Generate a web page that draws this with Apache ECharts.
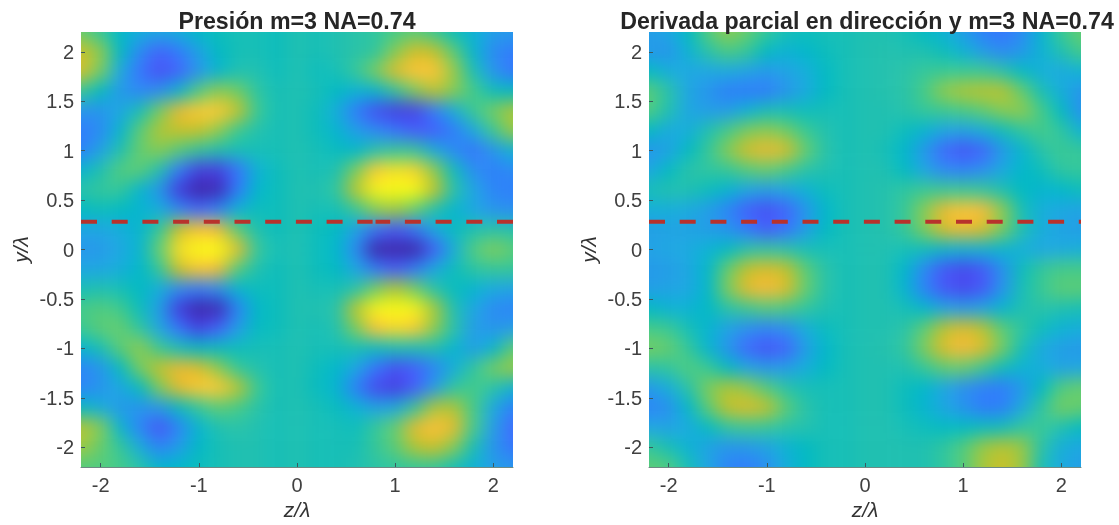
<!DOCTYPE html>
<html><head><meta charset="utf-8">
<style>html,body{margin:0;padding:0;background:#fff}#c{width:1119px;height:525px}</style>
<script src="https://cdn.jsdelivr.net/npm/echarts@6/dist/echarts.min.js"></script>
</head><body><div id="c"></div>
<script>
const titleLeft = 'Presión m=3 NA=0.74';
const titleRight = 'Derivada parcial en dirección y m=3 NA=0.74';
const xName = 'z/λ', yName = 'y/λ';
const xTicks = [-2,-1,0,1,2];
const yTicks = [-2,-1.5,-1,-0.5,0,0.5,1,1.5,2];
const lineY = 0.28;
const zCells = ['-2.4','-2.2','-2.0','-1.8','-1.6','-1.4','-1.2','-1.0','-0.8','-0.6','-0.4','-0.2','0','0.2','0.4','0.6','0.8','1.0','1.2','1.4','1.6','1.8','2.0','2.2','2.4'];
const yCells = ['2.4','2.2','2.0','1.8','1.6','1.4','1.2','1.0','0.8','0.6','0.4','0.2','0','-0.2','-0.4','-0.6','-0.8','-1.0','-1.2','-1.4','-1.6','-1.8','-2.0','-2.2','-2.4'];
const pressure = [
[.2,.2,.18,-.02,-.12,-.15,-.12,-.05,.0,.01,.0,-.02,.02,.0,.02,.05,.1,.15,.15,.08,-.02,-.12,-.22,-.25,-.25],
[.25,.22,.1,-.08,-.15,-.2,-.15,-.06,-.02,.0,.0,-.02,.02,.0,.02,.05,.08,.15,.2,.12,-.02,-.12,-.25,-.28,-.28],
[.42,.42,.3,-.05,-.35,-.52,-.42,-.22,-.05,.0,.0,-.02,.02,.0,.02,.05,.08,.28,.44,.4,.2,-.1,-.35,-.42,-.42],
[.45,.45,.25,-.18,-.45,-.62,-.52,-.3,-.1,.02,.02,-.02,.02,-.02,.0,.1,.26,.46,.6,.6,.32,.0,-.3,-.45,-.45],
[.12,.12,-.05,-.28,-.36,-.32,-.1,.18,.3,.24,.07,.0,.02,.0,-.05,-.12,-.1,.08,.26,.38,.28,.15,-.02,-.05,-.05],
[-.3,-.3,-.3,-.2,.0,.25,.5,.62,.62,.4,.12,.0,.02,-.02,-.15,-.42,-.62,-.7,-.68,-.42,-.15,.12,.25,.36,.36],
[-.42,-.42,-.35,-.1,.2,.36,.4,.4,.3,.12,.03,.0,.02,-.02,-.1,-.25,-.35,-.45,-.55,-.55,-.42,-.18,.12,.32,.32],
[-.4,-.4,-.22,.02,.22,.28,.18,.08,.02,.0,.0,.0,.02,.0,-.03,-.08,.05,.1,.1,-.15,-.35,-.45,-.3,-.12,-.12],
[-.1,-.1,.02,.18,.2,.02,-.42,-.7,-.7,-.45,-.12,-.02,.02,.0,.02,.26,.62,.72,.66,.3,-.02,-.33,-.4,-.35,-.35],
[.05,.05,.1,.1,-.1,-.3,-.72,-.92,-.82,-.42,-.08,-.02,.02,.02,.08,.38,.8,.92,.82,.4,.05,-.2,-.38,-.4,-.4],
[-.05,-.05,-.02,-.05,-.1,-.15,-.35,-.5,-.38,-.12,-.02,-.02,.02,.0,.0,.1,.28,.32,.22,.02,-.1,-.2,-.3,-.33,-.33],
[-.2,-.2,-.2,-.15,-.1,.1,.42,.6,.52,.2,.02,-.02,.02,-.02,-.05,-.22,-.45,-.58,-.45,-.18,-.03,.02,.05,.03,.03],
[-.3,-.3,-.28,-.2,-.1,.22,.7,.95,.95,.48,.1,.0,.02,-.02,-.08,-.35,-.92,-1,-.95,-.55,-.15,.18,.27,.2,.15],
[-.2,-.2,-.2,-.15,-.08,.1,.42,.6,.52,.18,.02,-.02,.02,-.02,-.05,-.2,-.42,-.55,-.42,-.18,-.02,.07,.1,.1,.1],
[.0,.0,.02,.0,-.05,-.15,-.35,-.42,-.32,-.1,-.02,-.02,.02,.0,.0,.05,.25,.36,.25,.05,-.03,-.1,-.18,-.22,-.22],
[.15,.15,.18,.14,-.02,-.25,-.72,-.95,-.82,-.38,-.06,-.02,.02,.02,.05,.38,.8,.95,.8,.35,.02,-.2,-.35,-.38,-.38],
[.12,.12,.2,.22,.08,-.2,-.45,-.68,-.52,-.25,-.04,-.02,.02,.0,.03,.26,.58,.68,.62,.3,.05,-.25,-.3,-.25,-.25],
[-.1,-.1,.0,.2,.3,.12,.0,-.05,-.03,-.02,.0,.0,.02,.0,.0,.0,-.03,.0,.0,.02,-.1,-.25,-.1,.2,.26],
[-.38,-.38,-.3,-.05,.25,.4,.5,.46,.3,.1,.03,.0,.02,-.02,-.08,-.2,-.45,-.62,-.55,-.38,-.15,.08,.25,.32,.32],
[-.38,-.38,-.3,-.2,-.05,.26,.48,.62,.62,.38,.12,.0,.02,-.03,-.1,-.4,-.65,-.7,-.55,-.25,.08,.15,.05,-.12,-.15],
[-.05,-.05,-.15,-.28,-.3,-.28,-.05,.1,.2,.15,.05,.0,.02,.0,-.03,-.12,-.22,-.18,.1,.36,.36,.15,-.18,-.4,-.4],
[.4,.38,.28,-.1,-.38,-.6,-.38,-.1,.02,.05,.02,.0,.02,.0,.0,-.02,.1,.22,.48,.58,.48,.15,-.25,-.5,-.5],
[.33,.33,.22,.1,-.15,-.38,-.25,-.06,.0,.02,.02,.0,.02,.0,.0,.0,.1,.2,.36,.42,.28,.0,-.3,-.45,-.45],
[.2,.18,.18,.15,.05,-.1,-.08,-.02,.0,.02,.02,.0,.02,.0,.0,.02,.06,.08,.1,.1,.0,-.12,-.25,-.3,-.3],
[.18,.16,.16,.15,.05,-.05,-.05,-.02,.0,.02,.02,.0,.02,.0,.0,.02,.05,.08,.1,.08,.0,-.12,-.22,-.28,-.28]
];
const derivative = [
[-.25,-.25,-.2,-.05,.18,.3,.22,.1,.0,-.02,.0,.0,.02,.02,.0,-.05,-.12,-.25,-.4,-.45,-.35,-.1,.12,.22,.22],
[-.25,-.25,-.2,-.05,.18,.3,.22,.1,.0,-.02,.0,.0,.02,.02,.0,-.05,-.12,-.25,-.4,-.45,-.35,-.1,.12,.22,.22],
[-.28,-.28,-.3,-.12,.05,.16,.1,-.05,-.12,-.08,-.02,.0,.02,.03,.02,.02,-.02,-.12,-.25,-.35,-.28,-.12,.02,.15,.15],
[-.05,-.05,-.15,-.2,-.2,-.18,-.22,-.28,-.22,-.15,-.05,.0,.02,.03,.05,.1,.12,.12,.12,.05,-.05,-.15,-.18,-.12,-.12],
[.2,.2,.05,-.2,-.3,-.4,-.42,-.42,-.3,-.18,-.05,.0,.02,.03,.05,.15,.3,.36,.38,.38,.22,.0,-.15,-.3,-.3],
[.18,.18,.02,-.2,-.25,-.25,-.12,.0,.0,-.02,.0,.0,.02,.02,.04,.1,.12,.15,.2,.28,.3,.15,-.05,-.32,-.32],
[-.05,-.05,-.18,-.15,.02,.15,.26,.3,.24,.12,.03,.0,.02,.02,-.02,-.1,-.2,-.22,-.15,-.02,.08,.15,.08,-.12,-.12],
[-.3,-.3,-.22,-.05,.1,.28,.44,.5,.45,.22,.05,.0,.02,.0,-.08,-.28,-.5,-.6,-.52,-.28,-.1,.05,.12,.1,.1],
[-.2,-.2,-.05,.05,.08,.1,.18,.22,.15,.05,.02,.0,.02,.02,-.05,-.2,-.35,-.38,-.32,-.18,-.08,-.02,.08,.1,.1],
[.0,.0,.03,.02,-.02,-.1,-.2,-.25,-.2,-.12,-.02,.0,.02,.03,.08,.12,.12,.12,.1,.02,-.05,-.1,-.08,-.02,-.02],
[-.15,-.15,-.15,-.18,-.25,-.38,-.55,-.62,-.52,-.3,-.08,.0,.02,.03,.1,.28,.5,.6,.55,.3,.0,-.15,-.2,-.22,-.22],
[-.25,-.25,-.22,-.22,-.25,-.3,-.42,-.55,-.45,-.25,-.05,.0,.02,.03,.1,.26,.45,.5,.45,.26,.02,-.15,-.22,-.25,-.25],
[-.22,-.22,-.2,-.18,-.12,-.05,.05,.08,.05,.0,.0,.0,.02,.02,.0,-.02,-.1,-.12,-.12,-.1,-.15,-.2,-.18,-.15,-.15],
[-.28,-.28,-.25,-.2,-.08,.22,.4,.46,.4,.2,.05,.0,.02,.02,-.08,-.35,-.58,-.65,-.58,-.32,-.02,.1,.15,.15,.15],
[-.25,-.25,-.22,-.2,-.08,.26,.48,.54,.46,.22,.05,.0,.02,.02,-.1,-.38,-.58,-.65,-.58,-.3,.0,.12,.2,.2,.2],
[-.05,-.05,-.12,-.12,-.06,.05,.12,.18,.15,.08,.02,.0,.02,.02,.0,-.08,-.2,-.25,-.2,-.1,.02,.05,.02,.0,.0],
[.15,.15,.12,.0,-.1,-.22,-.32,-.38,-.32,-.15,-.03,.0,.02,.02,.05,.2,.38,.46,.38,.2,.08,-.02,-.12,-.15,-.15],
[.25,.25,.22,.1,-.1,-.3,-.5,-.6,-.52,-.25,-.08,.0,.02,.03,.08,.26,.46,.54,.46,.25,.0,-.18,-.25,-.28,-.28],
[.05,.05,.08,.18,.12,-.05,-.2,-.28,-.25,-.15,-.05,.0,.02,.02,.02,.1,.2,.22,.12,-.02,-.12,-.15,-.22,-.2,-.2],
[-.28,-.28,-.15,.05,.26,.36,.3,.18,.05,.0,.0,.0,.02,.02,-.02,-.08,-.2,-.32,-.4,-.42,-.28,-.05,.18,.22,.22],
[-.38,-.38,-.32,-.08,.2,.4,.46,.4,.2,.05,.0,.0,.02,.02,-.02,-.1,-.2,-.3,-.42,-.4,-.18,.08,.25,.22,.22],
[-.2,-.2,-.22,-.18,-.05,.08,.12,.1,.05,.03,.0,.0,.02,.02,.0,-.02,-.05,-.05,-.03,-.02,.08,.12,.02,-.05,-.05],
[.1,.1,.0,-.12,-.22,-.3,-.28,-.22,-.12,-.05,.0,.0,.02,.02,.02,.02,.08,.18,.32,.38,.32,.05,-.15,-.2,-.2],
[.2,.2,.18,.0,-.2,-.38,-.42,-.32,-.15,-.05,.0,.0,.02,.02,.02,.02,.08,.18,.34,.42,.32,.0,-.18,-.25,-.25],
[.2,.2,.18,.0,-.2,-.38,-.42,-.32,-.15,-.05,.0,.0,.02,.02,.02,.02,.08,.18,.34,.42,.32,.0,-.18,-.25,-.25]
];
const parula = [[.2422,.1504,.6603],[.2504,.1650,.7076],[.2578,.1818,.7511],[.2647,.1978,.7952],[.2706,.2147,.8364],[.2751,.2342,.8710],[.2783,.2559,.8991],[.2803,.2782,.9221],[.2813,.3006,.9414],[.2810,.3228,.9579],[.2795,.3447,.9717],[.2760,.3667,.9829],[.2699,.3892,.9906],[.2602,.4123,.9952],[.2440,.4358,.9988],[.2206,.4603,.9973],[.1963,.4847,.9892],[.1834,.5074,.9798],[.1786,.5289,.9682],[.1764,.5499,.9520],[.1687,.5703,.9359],[.1540,.5902,.9218],[.1460,.6091,.9079],[.1380,.6276,.8973],[.1248,.6459,.8883],[.1113,.6635,.8763],[.0952,.6798,.8598],[.0689,.6948,.8394],[.0297,.7082,.8163],[.0036,.7203,.7917],[.0067,.7312,.7660],[.0433,.7411,.7394],[.0964,.7500,.7120],[.1408,.7584,.6842],[.1717,.7670,.6554],[.1938,.7758,.6251],[.2161,.7843,.5923],[.2470,.7918,.5567],[.2906,.7973,.5188],[.3406,.8008,.4789],[.3909,.8029,.4354],[.4456,.8024,.3909],[.5044,.7993,.3480],[.5616,.7942,.3045],[.6174,.7876,.2612],[.6720,.7793,.2227],[.7242,.7698,.1910],[.7738,.7598,.1646],[.8203,.7498,.1535],[.8634,.7406,.1596],[.9035,.7330,.1774],[.9393,.7288,.2100],[.9728,.7298,.2394],[.9956,.7434,.2371],[.9970,.7659,.2199],[.9952,.7893,.2028],[.9892,.8136,.1885],[.9786,.8386,.1766],[.9676,.8639,.1643],[.9610,.8890,.1537],[.9597,.9135,.1423],[.9628,.9373,.1265],[.9691,.9606,.1064],[.9769,.9839,.0805]];
const colors = parula.map(c => 'rgb(' + c.map(v => Math.round(v*255)).join(',') + ')');

const toCells = rows => rows.flatMap((r, j) => r.map((v, i) => [i, j, v]));
const font = '"Liberation Sans", Arial, sans-serif';
const heatAxis = (cats, idx, inv) => ({type:'category', data:cats, gridIndex:idx, show:false, inverse:inv});
const visX = idx => ({type:'value', gridIndex:idx, min:-2.2, max:2.2, zlevel:1, name:xName, nameLocation:'middle', nameGap:33,
  nameTextStyle:{fontFamily:font, fontSize:21, fontStyle:'italic', color:'#333'},
  axisLine:{show:true, onZero:false, lineStyle:{color:'#6d8a84', width:1}},
  axisTick:{show:true, inside:true, length:4, lineStyle:{color:'#3a5a60'}, customValues:xTicks},
  axisLabel:{color:'#404040', fontFamily:font, fontSize:20, margin:9, customValues:xTicks, formatter:v=>String(v)},
  splitLine:{show:false}});
const visY = idx => ({type:'value', gridIndex:idx, min:-2.2, max:2.2, zlevel:1, name:yName, nameLocation:'middle', nameGap:48,
  nameTextStyle:{fontFamily:font, fontSize:21, fontStyle:'italic', color:'#333'},
  axisLine:{show:false, onZero:false},
  axisTick:{show:true, inside:true, length:4, lineStyle:{color:'#3a5a60'}, customValues:yTicks},
  axisLabel:{color:'#404040', fontFamily:font, fontSize:20, margin:7, verticalAlign:'top', lineHeight:3, customValues:yTicks, formatter:v=>String(v)},
  splitLine:{show:false}});
const dash = (xa, from, to) => ({type:'line', xAxisIndex:xa, yAxisIndex:xa, zlevel:1, symbol:'none', silent:true,
  data:[[from,lineY],[to,lineY]],
  lineStyle:{color:'#b8322c', width:4, type:[16,14.7]}});
const heat = (i, rows) => ({type:'heatmap', xAxisIndex:i, yAxisIndex:i, data:toCells(rows), zlevel:0, silent:true, progressive:0, itemStyle:{borderWidth:0}});

const chart = echarts.init(document.getElementById('c'), null, {renderer:'canvas'});
chart.setOption({
  animation:false,
  backgroundColor:'transparent',
  title:[
    {text:titleLeft, left:292, top:6, textAlign:'center', zlevel:1, textStyle:{fontFamily:font, fontWeight:'bold', fontSize:23.2, color:'#262626'}},
    {text:titleRight, left:862, top:6, textAlign:'center', zlevel:1, textStyle:{fontFamily:font, fontWeight:'bold', fontSize:23.2, color:'#262626'}}
  ],
  grid:[
    {left:51.5, top:2.3, width:491, height:494.4, outerBoundsMode:'none'},
    {left:619.5, top:2.3, width:491, height:494.4, outerBoundsMode:'none'},
    {left:81, top:32, width:432, height:435, outerBoundsMode:'none'},
    {left:649, top:32, width:432, height:435, outerBoundsMode:'none'}
  ],
  xAxis:[heatAxis(zCells,0,false), heatAxis(zCells,1,false), visX(2), visX(3)],
  yAxis:[heatAxis(yCells,0,true), heatAxis(yCells,1,true), visY(2), visY(3)],
  visualMap:{show:false, type:'continuous', min:-0.85, max:0.83, seriesIndex:[0,1], dimension:2, inRange:{color:colors}},
  series:[heat(0,pressure), heat(1,derivative),
    dash(2,-2.2,0.77), dash(2,2.2,0.8), dash(3,-2.2,2.2)]
});
function soften(){
  const layer = document.querySelector('#c canvas[data-zr-dom-id="zr_0"]');
  if(!layer) return;
  layer.style.filter = 'blur(9px)';
  layer.style.clipPath = "path('M81 32H513V467H81Z M649 32H1081V467H649Z')";
}
soften();
chart.on('finished', soften);
</script></body></html>
